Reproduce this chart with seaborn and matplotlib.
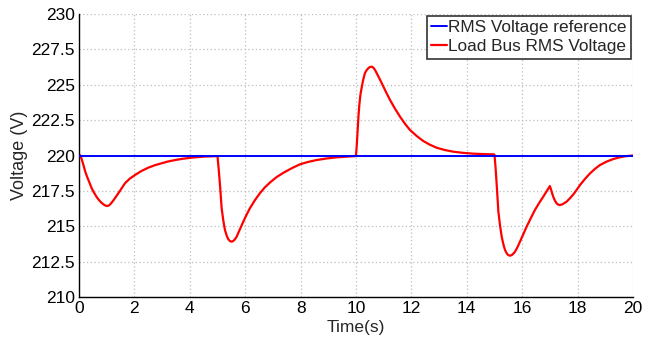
import matplotlib
matplotlib.use("Agg")
import matplotlib.pyplot as plt
from matplotlib.ticker import FuncFormatter, MultipleLocator
import seaborn as sns
import pandas as pd

# Reference voltage (flat setpoint)
time_ref = [0.0, 20.0]
volt_ref = [220.0, 220.0]

# Load bus RMS voltage samples
time_load = [
    0.00, 0.04, 0.08, 0.12, 0.16, 0.22, 0.28, 0.34, 0.40, 0.46, 0.55, 0.62,
    0.70, 0.80, 0.90, 0.97, 1.02, 1.08, 1.15, 1.25, 1.33, 1.42, 1.53,
    1.66, 1.83, 2.02, 2.25, 2.50, 2.75, 2.98, 3.20, 3.47, 3.75, 4.07, 4.50, 4.99,
    5.00, 5.04, 5.09, 5.15, 5.21, 5.27, 5.33, 5.39, 5.45, 5.51, 5.57, 5.63,
    5.69, 5.80, 5.93, 6.05, 6.17, 6.35, 6.53, 6.70, 6.90, 7.13, 7.38, 7.68,
    7.98, 8.28, 8.58, 8.94, 9.30, 9.65, 9.98,
    10.00, 10.03, 10.06, 10.09, 10.12, 10.16, 10.21, 10.26, 10.32, 10.38,
    10.44, 10.50, 10.57, 10.63, 10.69, 10.75, 10.87, 10.99, 11.11, 11.23,
    11.41, 11.59, 11.77, 11.95, 12.19, 12.43, 12.67, 12.91, 13.20, 13.51,
    13.85, 14.23, 14.60, 14.98,
    15.00, 15.04, 15.08, 15.14, 15.20, 15.26, 15.32, 15.38, 15.45, 15.50,
    15.56, 15.62, 15.68, 15.74, 15.83, 15.92, 16.04, 16.16, 16.31, 16.46,
    16.61, 16.76, 16.88, 16.96, 17.00, 17.04, 17.08, 17.12, 17.18, 17.24,
    17.30, 17.36, 17.45, 17.60, 17.72, 17.85, 17.97, 18.09, 18.27, 18.45,
    18.63, 18.81, 19.05, 19.29, 19.53, 19.77, 20.00,
]
volt_load = [
    220.00, 220.02, 219.85, 219.60, 219.33, 218.90, 218.56, 218.27, 217.96, 217.68, 217.35, 217.12,
    216.90, 216.68, 216.52, 216.45, 216.43, 216.47, 216.60, 216.85, 217.07, 217.33, 217.66,
    218.04, 218.36, 218.62, 218.90, 219.14, 219.32, 219.45, 219.57, 219.68, 219.77, 219.85, 219.92, 219.96,
    219.96, 219.10, 217.92, 216.27, 215.40, 214.73, 214.35, 214.08, 213.95, 213.91, 213.96, 214.08,
    214.26, 214.75, 215.32, 215.82, 216.27, 216.84, 217.33, 217.73, 218.10, 218.47, 218.78, 219.10,
    219.38, 219.55, 219.68, 219.79, 219.87, 219.92, 219.96,
    219.98, 220.80, 221.80, 222.80, 223.57, 224.30, 224.86, 225.35, 225.81, 226.02,
    226.16, 226.25, 226.28, 226.20, 226.03, 225.81, 225.35, 224.86, 224.38, 223.92,
    223.30, 222.74, 222.24, 221.80, 221.38, 221.02, 220.76, 220.55, 220.39, 220.27,
    220.19, 220.13, 220.10, 220.08,
    220.05, 219.10, 217.92, 216.03, 215.05, 214.26, 213.73, 213.32, 213.06, 212.96,
    212.92, 212.96, 213.06, 213.20, 213.52, 213.91, 214.44, 214.97, 215.57, 216.15,
    216.64, 217.09, 217.47, 217.72, 217.84, 217.60, 217.33, 217.09, 216.82, 216.62,
    216.53, 216.50, 216.55, 216.73, 216.97, 217.26, 217.58, 217.92, 218.35, 218.74,
    219.06, 219.33, 219.57, 219.75, 219.88, 219.96, 220.00,
]

sns.set_style("white")
plt.rcParams["font.family"] = ["Liberation Sans", "DejaVu Sans"]

ref_df = pd.DataFrame({"t": time_ref, "v": volt_ref})
load_df = pd.DataFrame({"t": time_load, "v": volt_load})

fig = plt.figure(figsize=(6.56, 3.37), dpi=100)
ax = fig.add_axes([79 / 656, 1 - 297 / 337, (633 - 79) / 656, (297 - 14) / 337])

sns.lineplot(data=ref_df, x="t", y="v", ax=ax, color=(0, 0, 1), lw=1.4,
             label="RMS Voltage reference", zorder=3, estimator=None, sort=False)
sns.lineplot(data=load_df, x="t", y="v", ax=ax, color=(1, 0, 0), lw=1.6,
             label="Load Bus RMS Voltage", zorder=2, estimator=None, sort=False)

ax.set_xlim(0, 20)
ax.set_ylim(210, 230)
ax.xaxis.set_major_locator(MultipleLocator(2))
ax.yaxis.set_major_locator(MultipleLocator(2.5))
ax.yaxis.set_major_formatter(FuncFormatter(lambda v, p: f"{v:g}"))

ax.grid(True, color="#bdbdbd", linestyle=(0, (1, 2)), linewidth=0.9)
for side in ("top", "right"):
    ax.spines[side].set_visible(False)
for side in ("left", "bottom"):
    ax.spines[side].set_color("black")
    ax.spines[side].set_linewidth(1.0)

ax.tick_params(axis="both", labelsize=12.5, colors="black", length=4, width=1)
ax.tick_params(axis="x", direction="in", pad=3)
ax.tick_params(axis="y", direction="inout", pad=1)

ax.set_xlabel("Time(s)", fontsize=12.5, labelpad=3)
ax.set_ylabel("Voltage (V)", fontsize=13, labelpad=2)

leg = ax.legend(loc="upper right", fontsize=12.4, frameon=True, fancybox=False,
                handlelength=0.9, handletextpad=0.1, borderpad=0.25,
                labelspacing=0.25, borderaxespad=0.1)
leg.get_frame().set_edgecolor("black")
leg.get_frame().set_linewidth(1.2)

fig.savefig("out.png", dpi=100)
